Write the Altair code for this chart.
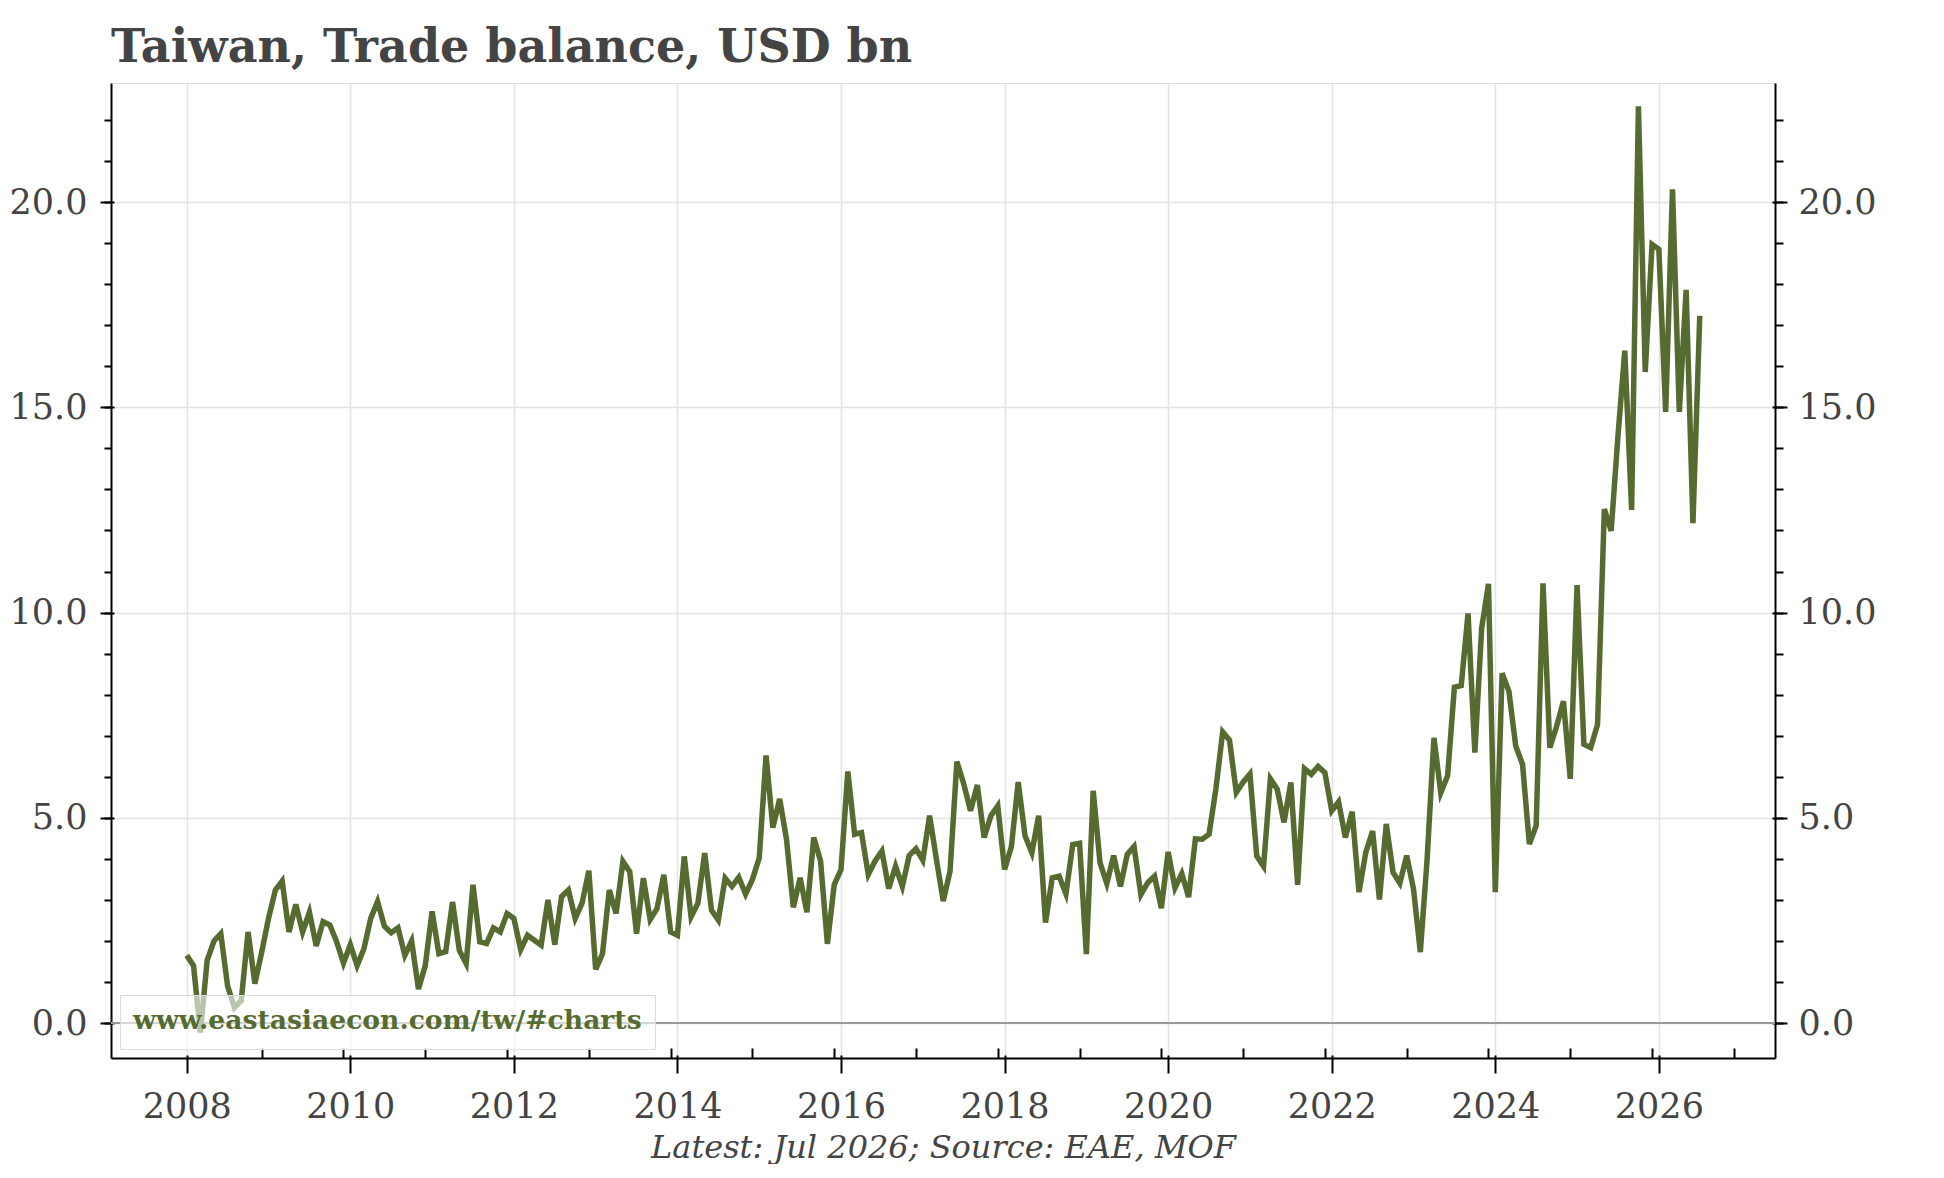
import altair as alt
import pandas as pd

FONT = "DejaVu Serif"
GREEN = "#566B30"
TXT = "#444444"
TITLE = "Taiwan, Trade balance, USD bn"
FOOTER = "Latest: Jul 2026; Source: EAE, MOF"
URL = "www.eastasiaecon.com/tw/#charts"

# Monthly trade balance, USD bn (Jan 2008 .. Jul 2026)
v2008 = [1.65, 1.40, -0.23, 1.53, 2.00, 2.18, 0.90, 0.38, 0.55, 2.22, 0.96, 1.73]
v2009 = [2.55, 3.24, 3.46, 2.22, 2.89, 2.22, 2.70, 1.88, 2.47, 2.39, 1.98, 1.46]
v2010 = [1.91, 1.40, 1.81, 2.55, 2.96, 2.36, 2.20, 2.32, 1.65, 2.00, 0.83, 1.40]
v2011 = [2.72, 1.69, 1.74, 2.95, 1.77, 1.45, 3.37, 1.98, 1.94, 2.32, 2.22, 2.67]
v2012 = [2.55, 1.79, 2.14, 2.02, 1.90, 3.00, 1.91, 3.08, 3.24, 2.55, 2.92, 3.71]
v2013 = [1.31, 1.69, 3.24, 2.67, 3.94, 3.69, 2.18, 3.53, 2.52, 2.79, 3.61, 2.22]
v2014 = [2.14, 4.06, 2.59, 2.92, 4.14, 2.75, 2.51, 3.53, 3.33, 3.55, 3.14, 3.50]
v2015 = [4.02, 6.52, 4.76, 5.46, 4.48, 2.82, 3.54, 2.70, 4.52, 3.95, 1.93, 3.37]
v2016 = [3.74, 6.13, 4.60, 4.64, 3.62, 3.95, 4.19, 3.28, 3.82, 3.33, 4.08, 4.25]
v2017 = [3.97, 5.05, 3.99, 2.97, 3.70, 6.37, 5.83, 5.17, 5.80, 4.52, 5.05, 5.29]
v2018 = [3.74, 4.30, 5.87, 4.56, 4.15, 5.05, 2.45, 3.54, 3.58, 3.15, 4.35, 4.38]
v2019 = [1.68, 5.66, 3.91, 3.40, 4.08, 3.33, 4.11, 4.30, 3.13, 3.42, 3.58, 2.80]
v2020 = [4.17, 3.29, 3.64, 3.07, 4.49, 4.48, 4.60, 5.70, 7.09, 6.89, 5.62, 5.87]
v2021 = [6.07, 4.07, 3.82, 5.95, 5.70, 4.89, 5.86, 3.37, 6.20, 6.06, 6.25, 6.10]
v2022 = [5.17, 5.39, 4.52, 5.15, 3.19, 4.16, 4.68, 3.01, 4.85, 3.67, 3.41, 4.08]
v2023 = [3.27, 1.73, 4.00, 6.95, 5.61, 6.02, 8.18, 8.22, 9.98, 6.59, 9.62, 10.70]
v2024 = [3.19, 8.52, 8.08, 6.75, 6.30, 4.36, 4.81, 10.71, 6.71, 7.23, 7.84, 5.95]
v2025 = [10.67, 6.79, 6.71, 7.27, 12.52, 11.99, 14.30, 16.38, 12.50, 22.33, 15.86, 18.97]
v2026 = [18.85, 14.89, 20.31, 14.89, 17.86, 12.18, 17.23]

series = [v2008, v2009, v2010, v2011, v2012, v2013, v2014, v2015, v2016,
          v2017, v2018, v2019, v2020, v2021, v2022, v2023, v2024, v2025, v2026]
first_year = 2008

# tick values
major_x = [2008, 2010, 2012, 2014, 2016, 2018, 2020, 2022, 2024, 2026]
minor_x = [y + 11 / 12 for y in range(2008, 2027)]   # December of each year
major_y = [0, 5, 10, 15, 20]
minor_y = list(range(0, 23))

rows = []
for i, yr_vals in enumerate(series):
    for m, v in enumerate(yr_vals):
        rows.append({"t": first_year + i + m / 12.0, "v": v})
df = pd.DataFrame(rows)
zero_df = pd.DataFrame({"y": [0.0], "src": [URL]})

xs = alt.Scale(domain=[2007.074, 2027.42], nice=False, zero=False)
ys = alt.Scale(domain=[-0.85, 22.9], nice=False, zero=False)

lab = dict(labelFont=FONT, labelColor=TXT, labelFontWeight="normal")

# zero line; its legend box carries the watermark text
zero = alt.Chart(zero_df).mark_rule(strokeWidth=2).encode(
    y=alt.Y("y:Q", scale=ys, axis=None),
    color=alt.Color(
        "src:N",
        scale=alt.Scale(domain=[URL], range=["#999999"]),
        legend=alt.Legend(
            title=URL, titleFont=FONT, titleFontSize=26.6, titleFontWeight="bold",
            titleColor=GREEN, titleLimit=900, titlePadding=0,
            orient="bottom-left", offset=9, padding=13,
            fillColor="rgba(255,255,255,0.6)", strokeColor="#dcdcdc",
            labelExpr="''", labelFontSize=1, labelOpacity=0, labelLimit=1,
            symbolSize=0, symbolOpacity=0, symbolStrokeWidth=0, labelOffset=0,
        ),
    ),
)

main = alt.Chart(df).mark_line(color=GREEN, strokeWidth=5.5).encode(
    x=alt.X("t:Q", scale=xs, axis=alt.Axis(
        orient="bottom", values=major_x, format="d", ticks=False, tickSize=0,
        domain=True, domainColor="black", domainWidth=2,
        labelFontSize=35, labelPadding=31, labelFlush=False, labelOverlap=False,
        grid=True, gridColor="#e3e3e3", gridWidth=1.5,
        title=FOOTER, titleFont=FONT, titleFontSize=32, titleFontStyle="italic",
        titleFontWeight="normal", titleColor=TXT, titlePadding=8, **lab)),
    y=alt.Y("v:Q", scale=ys, axis=alt.Axis(
        orient="left", values=major_y, format=".1f", ticks=False, tickSize=0,
        domain=True, domainColor="black", domainWidth=2,
        labelFontSize=35, labelPadding=24, grid=True, gridColor="#e3e3e3",
        gridWidth=1.5, title=None, **lab)),
)


def tick_layer(xaxis, yaxis):
    return alt.Chart(df).mark_line(opacity=0).encode(
        x=alt.X("t:Q", scale=xs, axis=xaxis),
        y=alt.Y("v:Q", scale=ys, axis=yaxis),
    )


tick_common = dict(domain=False, labels=False, grid=False, title=None,
                   tickColor="black", tickWidth=2)

ticks_major = tick_layer(
    alt.Axis(orient="bottom", values=major_x, offset=-3, tickSize=18, **tick_common),
    alt.Axis(orient="left", values=major_y, offset=-3, tickSize=14, **tick_common),
)
ticks_minor = tick_layer(
    alt.Axis(orient="bottom", values=minor_x, offset=-10, tickSize=10, **tick_common),
    alt.Axis(orient="left", values=minor_y, tickSize=7, **tick_common),
)
right_a = tick_layer(
    None,
    alt.Axis(orient="right", values=major_y, format=".1f", ticks=False, tickSize=0,
             domain=True, domainColor="black", domainWidth=2, labelFontSize=35,
             labelPadding=23, grid=False, title=None, **lab),
)
right_b = tick_layer(
    None,
    alt.Axis(orient="right", values=major_y, offset=-3, tickSize=15, **tick_common),
)
right_c = tick_layer(
    None,
    alt.Axis(orient="right", values=minor_y, tickSize=8, **tick_common),
)

chart = alt.layer(
    zero, main, ticks_major, ticks_minor, right_a, right_b, right_c
).resolve_axis(
    x="independent", y="independent"
).properties(
    width=1664,
    height=975,
    padding={"left": 103, "top": 75, "right": 120, "bottom": 106},
    autosize=alt.AutoSizeParams(type="none"),
    title=alt.TitleParams(
        text=TITLE, anchor="start", frame="group", font=FONT, fontSize=46,
        fontWeight="bold", color=TXT, offset=21, dy=46, baseline="alphabetic",
    ),
).configure_view(
    stroke="#dcdcdc", strokeWidth=2
).configure(background="white")

chart.save("out.html", embed_options={"renderer": "svg", "actions": False})
